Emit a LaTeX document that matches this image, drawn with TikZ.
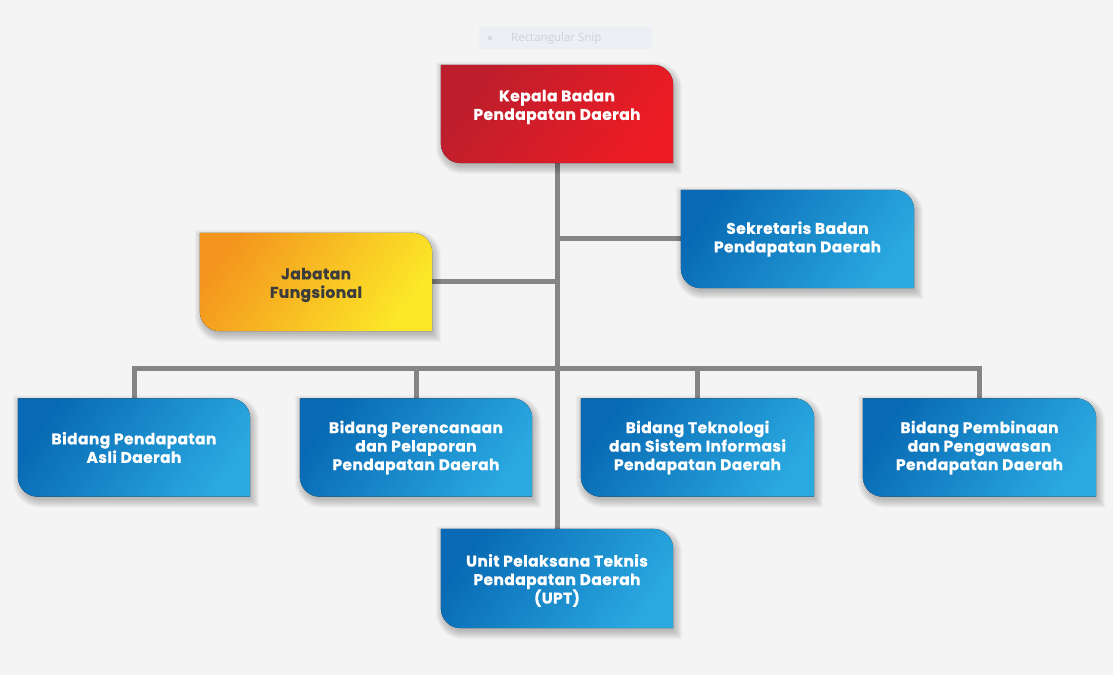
\documentclass[tikz,border=0pt]{standalone}
\usepackage{fontspec}
\setmainfont{Poppins}[BoldFeatures={FakeBold=0.5, LetterSpace=2.5}]
\newfontfamily\snipfont{Open Sans}
\definecolor{bgc}{RGB}{244,244,244}
\definecolor{linec}{RGB}{133,133,133}
\definecolor{blueA}{RGB}{8,106,180}
\definecolor{blueB}{RGB}{42,168,224}
\definecolor{redA}{RGB}{188,30,45}
\definecolor{redB}{RGB}{237,28,36}
\definecolor{yelA}{RGB}{244,150,30}
\definecolor{yelB}{RGB}{252,232,40}
\definecolor{darktext}{RGB}{60,60,60}
\definecolor{snipbg}{RGB}{236,239,245}
\definecolor{sniptext}{RGB}{205,210,218}
\pgfdeclarelayer{bglayer}
\pgfdeclarelayer{midlayer}
\pgfsetlayers{bglayer,midlayer,main}
% #1 node, #2 expansion, #3 dx, #4 dy
\newcommand{\shapepath}[4]{%
  ([xshift={#3-#2}, yshift={#4+#2}]#1.north west)
  -- ([xshift={#3-20}, yshift={#4+#2}]#1.north east)
  arc[start angle=90,end angle=0,radius={20+#2}]
  -- ([xshift={#3+#2}, yshift={#4-#2}]#1.south east)
  -- ([xshift={#3+20}, yshift={#4-#2}]#1.south west)
  arc[start angle=270,end angle=180,radius={20+#2}] -- cycle}
\newcommand{\orgshape}[2]{%
  \foreach \e in {7,6,5,4,3,2,1,0,-1}{%
    \fill[black, opacity=0.028] \shapepath{#1}{\e}{2}{-4};}
  \fill[#2] \shapepath{#1}{0}{0}{0};}
\tikzset{
  boxtext/.style={minimum width=232pt, minimum height=98pt, inner sep=0pt,
    align=center, text=white, font=\bfseries\fontsize{15.5}{18.5}\selectfont},
  conn/.style={draw=linec, line width=5pt},
  bluefill/.style={top color=blueA, bottom color=blueB, shading angle=55},
  redfill/.style={top color=redA, bottom color=redB, shading angle=55},
  yelfill/.style={top color=yelA, bottom color=yelB, shading angle=55}
}
\begin{document}
\begin{tikzpicture}[x=1pt,y=1pt]
\begin{pgfonlayer}{bglayer}
\fill[bgc] (0,0) rectangle (1113,675);
\end{pgfonlayer}
\useasboundingbox (0,0) rectangle (1113,675);

% snip widget
\node[fill=snipbg, minimum width=173pt, minimum height=22pt, inner sep=0pt] (snip) at (565.5,637) {};
\node[text=sniptext, font=\snipfont\fontsize{11.5}{13}\selectfont, anchor=west, inner sep=0pt] (sniptxt) at (511,636) {Rectangular Snip};
\node[circle, fill=sniptext!70!snipbg, minimum size=5pt, inner sep=0pt] (snipdot) at (490,637) {};

% nodes
\node[boxtext] (kep) at (557,561) {};
\node[boxtext] (kept) at (557,568) {Kepala Badan\\Pendapatan Daerah};
\node[boxtext, minimum width=233pt] (sek) at (797.5,436) {Sekretaris Badan\\Pendapatan Daerah};
\node[boxtext] (jab) at (316,393) {};
\node[boxtext, text=darktext] (jabt) at (316,390) {Jabatan\\Fungsional};
\node[boxtext] (b1) at (134,227.5) {Bidang Pendapatan\\Asli Daerah};
\node[boxtext] (b2) at (416,227.5) {Bidang Perencanaan\\dan Pelaporan\\Pendapatan Daerah};
\node[boxtext, minimum width=233pt] (b3) at (697.5,227.5) {Bidang Teknologi\\dan Sistem Informasi\\Pendapatan Daerah};
\node[boxtext, minimum width=233pt] (b4) at (979.5,227.5) {Bidang Pembinaan\\dan Pengawasan\\Pendapatan Daerah};
\node[boxtext, minimum height=99pt] (upt) at (557,96.5) {};
\node[boxtext] (uptt) at (557,94.5) {Unit Pelaksana Teknis\\Pendapatan Daerah\\(UPT)};

% shapes
\begin{pgfonlayer}{midlayer}
\orgshape{kep}{redfill}
\orgshape{sek}{bluefill}
\orgshape{jab}{yelfill}
\orgshape{b1}{bluefill}
\orgshape{b2}{bluefill}
\orgshape{b3}{bluefill}
\orgshape{b4}{bluefill}
\orgshape{upt}{bluefill}
\end{pgfonlayer}

% connectors
\begin{pgfonlayer}{bglayer}
\coordinate (bus) at (557,306);
\draw[conn] (kep.south) -- (upt.north);
\draw[conn] (sek.west) -- (sek.west -| kep.south);
\draw[conn] (jab.east) -- (jab.east -| kep.south);
\draw[conn] (b1.north) |- (bus) -| (b4.north);
\draw[conn] (b2.north) -- (b2.north |- bus);
\draw[conn] (b3.north) -- (b3.north |- bus);
\end{pgfonlayer}
\end{tikzpicture}
\end{document}
